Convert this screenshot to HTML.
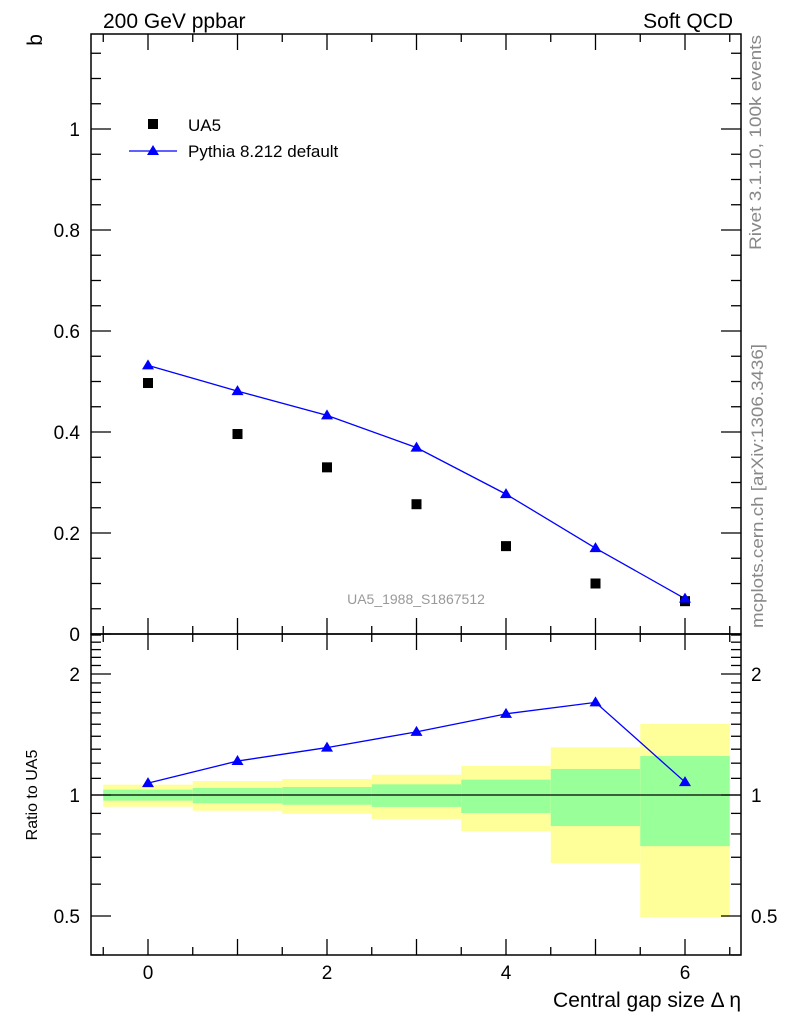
<!DOCTYPE html>
<html><head><meta charset="utf-8"><style>
body{margin:0;background:#fff;}
svg{display:block;font-family:"Liberation Sans",sans-serif;}
</style></head><body>
<svg id="chart" width="786" height="1024" xmlns="http://www.w3.org/2000/svg">
<g id="bands"></g>
<g id="marks"></g>
<g id="axes"></g>
<text x="103" y="28" font-size="21">200 GeV ppbar</text>
<text x="733" y="28" font-size="21" text-anchor="end">Soft QCD</text>
<text transform="translate(42,34) rotate(-90)" font-size="21" text-anchor="end">b</text>
<text transform="translate(37,795) rotate(-90)" font-size="16" text-anchor="middle">Ratio to UA5</text>
<text x="741" y="1007" font-size="21" text-anchor="end">Central gap size Δ η</text>
<text transform="translate(761,250) rotate(-90)" font-size="17" fill="#888" textLength="215" lengthAdjust="spacingAndGlyphs">Rivet 3.1.10,  100k events</text>
<text transform="translate(763,628) rotate(-90)" font-size="17" fill="#888" textLength="284" lengthAdjust="spacingAndGlyphs">mcplots.cern.ch [arXiv:1306.3436]</text>
<text x="416" y="604" font-size="14" fill="#999" text-anchor="middle">UA5_1988_S1867512</text>
<g>
<rect x="148" y="119" width="10" height="10" fill="#000"/>
<text x="188" y="131" font-size="17">UA5</text>
<line x1="129" y1="151" x2="177" y2="151" stroke="#00f" stroke-width="1.3"/>
<polygon points="153,145 147,155 159,155" fill="#00f"/>
<text x="188" y="157" font-size="17">Pythia 8.212 default</text>
</g>
</svg>
<script>
const xs=[0,1,2,3,4,5,6];
const ua5=[0.497,0.396,0.330,0.257,0.174,0.100,0.065];
const pythia=[0.532,0.481,0.433,0.369,0.277,0.170,0.070];
const bandYellowUp=[1.061,1.083,1.096,1.123,1.181,1.314,1.502];
const bandYellowDn=[0.935,0.914,0.898,0.872,0.812,0.677,0.497];
const bandGreenUp=[1.031,1.041,1.047,1.063,1.092,1.161,1.25];
const bandGreenDn=[0.968,0.954,0.946,0.934,0.902,0.837,0.746];
const mainTicks=[0,0.2,0.4,0.6,0.8,1];
const mainTickLabels=["0","0.2","0.4","0.6","0.8","1"];
const ratioTicks=[0.5,1,2];
const ratioTickLabels=["0.5","1","2"];
const xTicks=[0,2,4,6];
const xTickLabels=["0","2","4","6"];

const L=91,R=741,T=34,M=634,B=955;
const X=v=>148+(v)*89.5;
const Y=v=>634-v*505;
const RY=v=>795-Math.log2(v)*121;
const NS="http://www.w3.org/2000/svg";
function mk(tag,attrs,parent){const e=document.createElementNS(NS,tag);for(const k in attrs)e.setAttribute(k,attrs[k]);parent.appendChild(e);return e;}
const bands=document.getElementById('bands'),marks=document.getElementById('marks'),axes=document.getElementById('axes');

xs.forEach((x,i)=>{
 let r=mk('rect',{x:X(x-0.5),y:RY(bandYellowUp[i]),width:X(x+0.5)-X(x-0.5),height:RY(bandYellowDn[i])-RY(bandYellowUp[i]),fill:'#ffff99'},bands);
 
 
 let g=mk('rect',{x:X(x-0.5),y:RY(bandGreenUp[i]),width:X(x+0.5)-X(x-0.5),height:RY(bandGreenDn[i])-RY(bandGreenUp[i]),fill:'#99ff99'},bands);
 
 
});
mk('line',{x1:L,x2:R,y1:RY(1),y2:RY(1),stroke:'#000','stroke-width':1.2},marks);

let pl=mk('polyline',{points:xs.map((x,i)=>X(x)+','+Y(pythia[i])).join(' '),fill:'none',stroke:'#00f','stroke-width':1.3},marks);


xs.forEach((x,i)=>{
 let s=mk('rect',{x:X(x)-5,y:Y(ua5[i])-5,width:10,height:10,fill:'#000'},marks);
 
 
});
function tri(cx,cy){let p=mk('polygon',{points:`${cx},${cy-6} ${cx-6},${cy+4} ${cx+6},${cy+4}`,fill:'#00f'},marks);return p;}
xs.forEach((x,i)=>{
 let p=tri(X(x),Y(pythia[i]));
 
 
});
const ratios=xs.map((x,i)=>pythia[i]/ua5[i]);
let rl=mk('polyline',{points:xs.map((x,i)=>X(x)+','+RY(ratios[i])).join(' '),fill:'none',stroke:'#00f','stroke-width':1.3},marks);


xs.forEach((x,i)=>{
 let p=tri(X(x),RY(ratios[i]));
 
 
});

mk('rect',{x:L,y:T,width:R-L,height:M-T,fill:'none',stroke:'#000','stroke-width':1.5},axes);
mk('rect',{x:L,y:M,width:R-L,height:B-M,fill:'none',stroke:'#000','stroke-width':1.5},axes);
function tk(x1,y1,x2,y2){mk('line',{x1,y1,x2,y2,stroke:'#000','stroke-width':1.3},axes);}
for(let v=-0.5;v<=6.5;v+=0.5){const x=X(v);if(x<L||x>R)continue;const len=Number.isInteger(v)?16:8;
 tk(x,T,x,T+len);tk(x,M,x,M-len);tk(x,M,x,M+len);tk(x,B,x,B-len);}
xTicks.forEach((v,i)=>{let t=mk('text',{x:X(v),y:979,'font-size':19,'text-anchor':'middle'},axes);t.textContent=xTickLabels[i];
 
 });
for(let k=0;k<=23;k++){const v=k*0.05;const y=Y(v);if(y<T)continue;const len=(k%4==0)?20:10;tk(L,y,L+len,y);tk(R,y,R-len,y);}
mainTicks.forEach((v,i)=>{let t=mk('text',{x:80,y:Y(v)+7,'font-size':19,'text-anchor':'end'},axes);t.textContent=mainTickLabels[i];
 
 });
for(let k=4;k<=25;k++){const v=k/10;const y=RY(v);if(y<M||y>B)continue;const len=(k==5||k==10||k==20)?20:10;tk(L,y,L+len,y);tk(R,y,R-len,y);}
ratioTicks.forEach((v,i)=>{let t=mk('text',{x:80,y:RY(v)+7,'font-size':19,'text-anchor':'end'},axes);t.textContent=ratioTickLabels[i];
 
 
 let t2=mk('text',{x:751,y:RY(v)+7,'font-size':19},axes);t2.textContent=ratioTickLabels[i];
 
 });
</script>
</body></html>
